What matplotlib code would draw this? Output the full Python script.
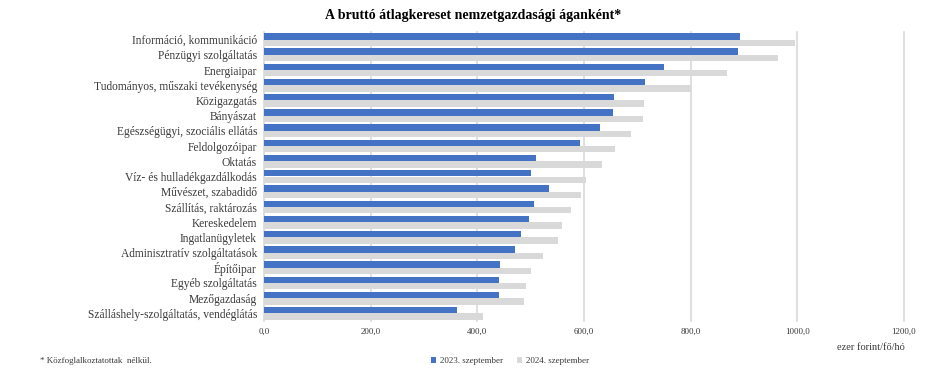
import matplotlib.pyplot as plt
import numpy as np
from matplotlib.ticker import FuncFormatter

plt.rcParams['font.family'] = ['Liberation Serif', 'DejaVu Serif']
plt.rcParams['text.color'] = '#3a3a3a'
plt.rcParams['xtick.color'] = '#3a3a3a'
plt.rcParams['ytick.color'] = '#3a3a3a'

categories = ["Információ, kommunikáció", "Pénzügyi szolgáltatás", "Energiaipar",
              "Tudományos, műszaki tevékenység", "Közigazgatás", "Bányászat",
              "Egészségügyi, szociális ellátás", "Feldolgozóipar", "Oktatás",
              "Víz- és hulladékgazdálkodás", "Művészet, szabadidő", "Szállítás, raktározás",
              "Kereskedelem", "Ingatlanügyletek", "Adminisztratív szolgáltatások",
              "Építőipar", "Egyéb szolgáltatás", "Mezőgazdaság",
              "Szálláshely-szolgáltatás, vendéglátás"]
values_2023 = [892, 888, 750, 714, 656, 654, 630, 592, 510, 500, 535, 506, 496, 482, 471, 442, 440, 441, 362]
values_2024 = [995, 964, 868, 800, 712, 710, 688, 659, 633, 603, 594, 575, 558, 551, 523, 501, 491, 487, 410]
series_labels = ["2023. szeptember", "2024. szeptember"]
xticks = [0, 200, 400, 600, 800, 1000, 1200]

fig = plt.figure(figsize=(9.46, 3.71), dpi=100)
ax = fig.add_axes([264/946, 1-321/371, 640/946, 289/371])

y = np.arange(len(categories))
h = 0.42
ax.barh(y - h/2, values_2023, height=h, color='#4472C4', label=series_labels[0], zorder=3)
ax.barh(y + h/2, values_2024, height=h, color='#D9D9D9', label=series_labels[1], zorder=3)

ax.set_xlim(0, 1200)
ax.set_ylim(len(categories) - 0.5, -0.5)
ax.set_yticks(y)
ax.set_yticklabels(categories, fontsize=8.3)
ax.set_xticks(xticks)
ax.xaxis.set_major_formatter(FuncFormatter(lambda v, p: f"{v:.1f}".replace('.', ',')))
ax.tick_params(axis='x', labelsize=6.5, length=0, pad=5)
ax.tick_params(axis='y', length=0, pad=5)
ax.grid(axis='x', color='#d9d9d9', linewidth=1.2, zorder=0)
for gl in ax.get_xgridlines():
    gl.set_clip_on(False)
for s in ax.spines.values():
    s.set_visible(False)

fig.text(0.5, 1 - 15/371, "A bruttó átlagkereset nemzetgazdasági áganként*", ha='center', va='center',
         fontsize=10, fontweight='bold', color='black')
fig.text(40/946, 1 - 361/371, "* Közfoglalkoztatottak  nélkül.", ha='left', va='center', fontsize=6.5)
fig.text(905/946, 1 - 348/371, "ezer forint/fő/hó", ha='right', va='center', fontsize=7.5)

fig.legend(loc='center', bbox_to_anchor=(510/946, 1 - 361/371), ncol=2, frameon=False, fontsize=6.5,
           handlelength=0.6, handleheight=0.6, handletextpad=0.4, columnspacing=1.5)

fig.savefig("out.png", dpi=100)
